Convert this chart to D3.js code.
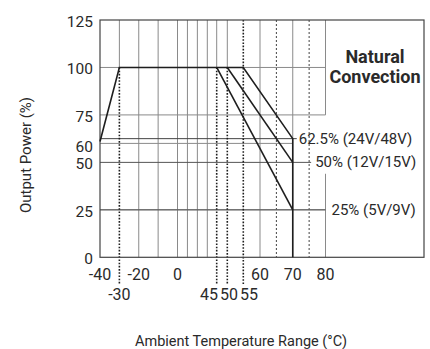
<!DOCTYPE html>
<html><head><meta charset="utf-8">
<script src="https://cdn.jsdelivr.net/npm/d3@7"></script>
<style>
html,body{margin:0;padding:0;background:#fff;}
svg text{font-family:Roboto,"Liberation Sans",Arial,sans-serif;fill:#2a2a2a;}
</style></head>
<body><svg id="c" width="430" height="349"></svg>
<script>
// ---- data ----
const yTicks = [0, 25, 50, 60, 75, 100, 125];
const xTicksRow1 = [-40, -20, 0, 60, 70, 80];
const xTicksRow2 = [-30, 45, 50, 55];
const gridXSolid = [-20, -10, 0, 10, 20, 30, 60, 70];
const gridXUpper = [-30, 45, 50];          // solid above the 100% line
const dotBoldX = [-30, 45, 50, 55];
const dotBoldTop = [100, 100, 100, 125];
const dotLightX = [65, 75];
const gridYFull = [100, 75, 60, 25];
// derating curves (temperature, power)
const s24T = [-40, -30, 55, 70, 70];
const s24P = [61, 100, 100, 62.5, 0];
const s12T = [50, 70];
const s12P = [100, 50];
const s5T = [45, 70];
const s5P = [100, 25];
const seriesLabels = ["62.5% (24V/48V)", "50% (12V/15V)", "25% (5V/9V)"];
const seriesEnd = [62.5, 50, 25];
const labelAtT = [70, 75, 80];
const titleLines = ["Natural", "Convection"];
const xTitle = "Ambient Temperature Range (°C)";
const yTitle = "Output Power (%)";

// ---- layout ----
const svg = d3.select("#c");
const pL = 100, pR = 424, pT = 20, pB = 257.3;
// piecewise temperature axis as drawn in the original
const x = d3.scaleLinear()
  .domain([-40, 0, 30, 45, 50, 55, 60, 80])
  .range([pL, 177.5, 207.3, 216.7, 227.3, 243.3, 260, 325.5]);
const y = d3.scaleLinear().domain([0, 125]).range([pB, pT]);

const GRID = "#8a8a8a", INK = "#1e1e1e";
const g = svg.append("g");

// solid vertical grid
g.selectAll(".vg").data(gridXSolid).join("line")
  .attr("x1", d => x(d)).attr("x2", d => x(d))
  .attr("y1", y(125)).attr("y2", y(0))
  .attr("stroke", GRID).attr("stroke-width", 1);
g.selectAll(".vu").data(gridXUpper).join("line")
  .attr("x1", d => x(d)).attr("x2", d => x(d))
  .attr("y1", y(125)).attr("y2", y(100))
  .attr("stroke", GRID).attr("stroke-width", 1);
// 80 line, split around the labels
[[125, 75], [44, 0]].forEach(s => {
  g.append("line").attr("x1", x(80)).attr("x2", x(80))
    .attr("y1", y(s[0])).attr("y2", y(s[1]))
    .attr("stroke", GRID).attr("stroke-width", 1);
});
// light dotted verticals
g.selectAll(".dl").data(dotLightX).join("line")
  .attr("x1", d => x(d)).attr("x2", d => x(d))
  .attr("y1", y(125)).attr("y2", y(0))
  .attr("stroke", "#444").attr("stroke-width", 1).attr("stroke-dasharray", "2,2");

// horizontal grid
g.selectAll(".hg").data(gridYFull).join("line")
  .attr("x1", x(-40)).attr("x2", d => d === 60 ? x(70) : x(80))
  .attr("y1", d => y(d)).attr("y2", d => y(d))
  .attr("stroke", GRID).attr("stroke-width", 1);
// series guide lines to labels
g.append("line").attr("x1", x(-40)).attr("x2", x(70) + 4)
  .attr("y1", y(62.5)).attr("y2", y(62.5)).attr("stroke", "#444").attr("stroke-width", 1);
g.append("line").attr("x1", x(-40)).attr("x2", x(75) + 2)
  .attr("y1", y(50)).attr("y2", y(50)).attr("stroke", "#555").attr("stroke-width", 1);
g.append("line").attr("x1", x(-40)).attr("x2", x(80))
  .attr("y1", y(25)).attr("y2", y(25)).attr("stroke", "#555").attr("stroke-width", 1);

// bold dotted verticals (extend below axis)
g.selectAll(".db").data(dotBoldX).join("line")
  .attr("x1", d => x(d)).attr("x2", d => x(d))
  .attr("y1", (d, i) => y(dotBoldTop[i])).attr("y2", 285)
  .attr("stroke", INK).attr("stroke-width", 1.6).attr("stroke-dasharray", "1.6,1.6");

// box
svg.append("rect").attr("x", pL).attr("y", pT)
  .attr("width", pR - pL).attr("height", pB - pT)
  .attr("fill", "none").attr("stroke", "#444").attr("stroke-width", 1.2);

// curves
const line = d3.line().x(d => x(d[0])).y(d => y(d[1]));
[[s24T, s24P], [s12T, s12P], [s5T, s5P]].forEach(([T, P]) => {
  svg.append("path").datum(T.map((t, i) => [t, P[i]]))
    .attr("d", line).attr("fill", "none").attr("stroke", INK)
    .attr("stroke-width", 1.6).attr("stroke-linejoin", "miter");
});

// y tick labels
svg.selectAll(".yt").data(yTicks).join("text")
  .attr("x", 93).attr("y", d => y(d) + 7 + (d === 60 ? 1.5 : 0))
  .attr("text-anchor", "end").attr("font-size", 15.5).text(d => d);

// x tick labels
svg.selectAll(".xt1").data(xTicksRow1).join("text")
  .attr("x", d => x(d)).attr("y", 280)
  .attr("text-anchor", "middle").attr("font-size", 16).text(d => d);
// spread crowded labels evenly
const crowd = xTicksRow2.filter(d => d > 0);
const mean = d3.mean(crowd, d => x(d));
svg.selectAll(".xt2").data(xTicksRow2).join("text")
  .attr("x", d => d > 0 ? mean + (crowd.indexOf(d) - (crowd.length - 1) / 2) * 20 : x(d))
  .attr("y", 300)
  .attr("text-anchor", "middle").attr("font-size", 16).text(d => d);

// series labels
svg.selectAll(".sl").data(seriesLabels).join("text")
  .attr("x", (d, i) => x(labelAtT[i]) + 6)
  .attr("y", (d, i) => y(seriesEnd[i]) + 5)
  .attr("font-size", 15).text(d => d);

// title box
svg.selectAll(".tt").data(titleLines).join("text")
  .attr("x", 375).attr("y", (d, i) => 62.7 + i * 20.7)
  .attr("text-anchor", "middle").attr("font-size", 18)
  .attr("font-weight", "bold").text(d => d);

// axis titles
svg.append("text").attr("x", 241).attr("y", 346)
  .attr("text-anchor", "middle").attr("font-size", 14.5).text(xTitle);
svg.append("text").attr("transform", "translate(31,155) rotate(-90)")
  .attr("text-anchor", "middle").attr("font-size", 15).text(yTitle);
</script></body></html>
